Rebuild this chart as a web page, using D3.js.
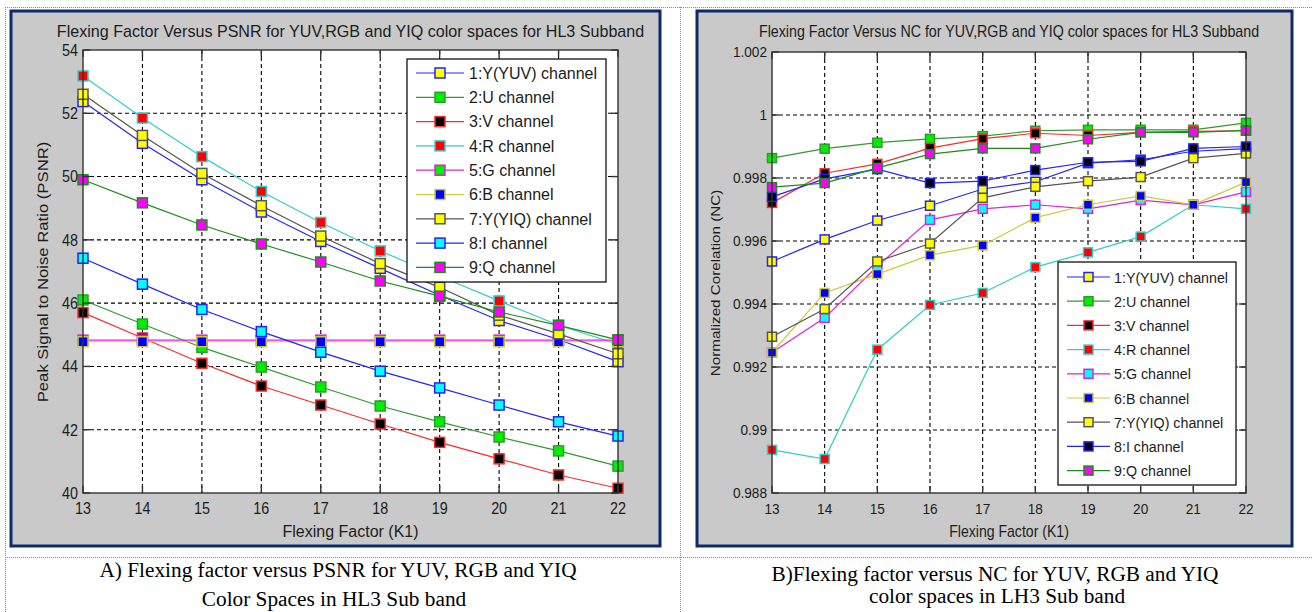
<!DOCTYPE html>
<html>
<head>
<meta charset="utf-8">
<script src="https://cdn.jsdelivr.net/npm/d3@7"></script>
<style>
  body { margin: 0; background: #fff; }
  svg { display: block; }
</style>
</head>
<body>
<script>
// flexing factor K1 values (x axis, both charts)
var flexK = [13, 14, 15, 16, 17, 18, 19, 20, 21, 22];

var channelNames = ["1:Y(YUV) channel", "2:U channel", "3:V channel", "4:R channel", "5:G channel",
	"6:B channel", "7:Y(YIQ) channel", "8:I channel", "9:Q channel"];

// chart A - PSNR
var psnrYyuv = [52.37, 51.05, 49.9, 48.88, 47.95, 47.1, 46.25, 45.45, 44.85, 44.15];
var psnrU    = [46.1, 45.34, 44.6, 43.98, 43.35, 42.75, 42.25, 41.77, 41.33, 40.85];
var psnrV    = [45.7, 44.9, 44.1, 43.38, 42.78, 42.18, 41.6, 41.08, 40.57, 40.15];
var psnrR    = [53.18, 51.85, 50.63, 49.53, 48.55, 47.65, 46.85, 46.07, 45.3, 44.7];
var psnrG    = [44.83, 44.83, 44.83, 44.83, 44.83, 44.83, 44.83, 44.83, 44.83, 44.83];
var psnrB    = [44.78, 44.78, 44.78, 44.78, 44.78, 44.78, 44.78, 44.78, 44.78, 44.78];
var psnrYyiq = [52.6, 51.3, 50.1, 49.08, 48.12, 47.25, 46.5, 45.62, 45.03, 44.4];
var psnrI    = [47.42, 46.6, 45.8, 45.1, 44.45, 43.85, 43.32, 42.78, 42.25, 41.8];
var psnrQ    = [49.9, 49.17, 48.47, 47.87, 47.3, 46.7, 46.22, 45.72, 45.3, 44.84];
var psnrTicks = [40, 42, 44, 46, 48, 50, 52, 54];

// chart B - NC
var ncYyuv = [0.99535, 0.99605, 0.99665, 0.99712, 0.99765, 0.99788, 0.99847, 0.99858, 0.99885, 0.99893];
var ncU    = [0.99863, 0.99893, 0.99912, 0.99924, 0.99933, 0.9995, 0.99953, 0.99953, 0.99953, 0.99975];
var ncV    = [0.99721, 0.99815, 0.99845, 0.99895, 0.99925, 0.99942, 0.99935, 0.99945, 0.99948, 0.9995];
var ncR    = [0.98937, 0.98908, 0.99255, 0.99397, 0.99435, 0.99517, 0.99564, 0.99614, 0.99715, 0.99702];
var ncG    = [0.99246, 0.99356, 0.9952, 0.99667, 0.99702, 0.99715, 0.99702, 0.9973, 0.99715, 0.99756];
var ncB    = [0.99246, 0.99435, 0.99495, 0.99555, 0.99586, 0.99674, 0.99715, 0.99743, 0.99715, 0.99787];
var ncYyiq = [0.99296, 0.99384, 0.99535, 0.99592, 0.99737, 0.99772, 0.9979, 0.99803, 0.99863, 0.99878];
var ncI    = [0.9974, 0.99797, 0.99828, 0.99784, 0.9979, 0.99825, 0.9985, 0.99853, 0.99894, 0.999];
var ncQ    = [0.99771, 0.99784, 0.99832, 0.99876, 0.99894, 0.99894, 0.99923, 0.99945, 0.99945, 0.99951];
var ncTicks = [0.988, 0.99, 0.992, 0.994, 0.996, 0.998, 1, 1.002];

// colours (line / marker edge, marker fill)
var lineColors = ["#2323ff", "#2f9a2f", "#ff2a2a", "#33cccc", "#dd22dd", "#caca3a", "#555555", "#2323ff", "#1a8c1a"];
var psnrFills = ["#ffff00", "#00ee00", "#000000", "#ff0000", "#00ee00", "#0000ff", "#ffff00", "#00ffff", "#ff00ff"];
var ncFills   = ["#ffff00", "#00ee00", "#000000", "#ff0000", "#00ffff", "#0000ff", "#ffff00", "#000000", "#ff00ff"];

var svg = d3.select("body").append("svg")
	.attr("width", 1312)
	.attr("height", 612)
	.style("font-family", "'Liberation Sans', Arial, sans-serif");

// dotted table borders of the page
var dots = svg.append("g").attr("stroke", "#8a8a8a").attr("stroke-width", 1).attr("stroke-dasharray", "1,1");
dots.append("line").attr("x1", 5).attr("y1", 7.5).attr("x2", 1312).attr("y2", 7.5);
dots.append("line").attr("x1", 5.5).attr("y1", 7).attr("x2", 5.5).attr("y2", 612);
dots.append("line").attr("x1", 680.5).attr("y1", 7).attr("x2", 680.5).attr("y2", 612);
dots.append("line").attr("x1", 5).attr("y1", 557.5).attr("x2", 1312).attr("y2", 557.5);

function txt(g, x, y, s, size, anchor, sx, rot, sy) {
	return g.append("text")
		.attr("transform", "translate(" + x + "," + y + ")" + (rot ? " rotate(" + rot + ")" : "") +
			" scale(" + (sx || 1) + "," + (sy || 1) + ")")
		.attr("text-anchor", anchor)
		.attr("font-size", size)
		.attr("fill", "#1c1c1c")
		.text(s);
}

function drawChart(o) {
	var g = svg.append("g");

	g.append("rect")
		.attr("x", o.panel[0]).attr("y", o.panel[1])
		.attr("width", o.panel[2] - o.panel[0]).attr("height", o.panel[3] - o.panel[1])
		.attr("fill", "#c9c9c9").attr("stroke", "#0d2b6b").attr("stroke-width", 3);

	var x = d3.scaleLinear().domain([13, 22]).range([o.box[0], o.box[2]]);
	var y = d3.scaleLinear().domain(o.yDomain).range([o.box[3], o.box[1]]);

	g.append("rect")
		.attr("x", o.box[0]).attr("y", o.box[1])
		.attr("width", o.box[2] - o.box[0]).attr("height", o.box[3] - o.box[1])
		.attr("fill", "#fff");

	// dashed grid
	var grid = g.append("g").attr("stroke", "#000").attr("stroke-width", 1.1).attr("stroke-dasharray", "4,3");
	flexK.slice(1, -1).forEach(function (k) {
		grid.append("line").attr("x1", x(k)).attr("x2", x(k)).attr("y1", o.box[1]).attr("y2", o.box[3]);
	});
	o.yTicks.slice(1, -1).forEach(function (v) {
		grid.append("line").attr("y1", y(v)).attr("y2", y(v)).attr("x1", o.box[0]).attr("x2", o.box[2]);
	});

	// series
	var line = d3.line().x(function (d, i) { return x(flexK[i]); }).y(function (d) { return y(d); });
	o.series.forEach(function (s, si) {
		var sg = g.append("g");
		sg.append("path").attr("d", line(s)).attr("fill", "none")
			.attr("stroke", lineColors[si]).attr("stroke-width", 1.2);
		sg.selectAll("rect").data(s).enter().append("rect")
			.attr("x", function (d, i) { return x(flexK[i]) - o.ms / 2; })
			.attr("y", function (d) { return y(d) - o.ms / 2; })
			.attr("width", o.ms).attr("height", o.ms)
			.attr("fill", o.fills[si]).attr("stroke", lineColors[si]).attr("stroke-width", 1.5);
	});

	// axes box with inward ticks on four sides
	var ax = g.append("g").attr("stroke", "#333").attr("stroke-width", 1.4);
	ax.append("rect").attr("x", o.box[0]).attr("y", o.box[1])
		.attr("width", o.box[2] - o.box[0]).attr("height", o.box[3] - o.box[1]).attr("fill", "none");
	flexK.forEach(function (k) {
		ax.append("line").attr("x1", x(k)).attr("x2", x(k)).attr("y1", o.box[3]).attr("y2", o.box[3] - 7);
		ax.append("line").attr("x1", x(k)).attr("x2", x(k)).attr("y1", o.box[1]).attr("y2", o.box[1] + 7);
		txt(g, x(k), o.box[3] + 21, k, o.fsTick, "middle", o.sxTick);
	});
	o.yTicks.forEach(function (v) {
		ax.append("line").attr("y1", y(v)).attr("y2", y(v)).attr("x1", o.box[0]).attr("x2", o.box[0] + 7);
		ax.append("line").attr("y1", y(v)).attr("y2", y(v)).attr("x1", o.box[2]).attr("x2", o.box[2] - 7);
		txt(g, o.box[0] - 5, y(v) + o.fsTick * 0.36, o.yFormat(v), o.fsTick, "end", o.sxTick);
	});

	// texts
	txt(g, (o.box[0] + o.box[2]) / 2, o.titleY, o.title, o.fsTitle, "middle", o.sxTitle);
	txt(g, (o.box[0] + o.box[2]) / 2, o.xLabelY, "Flexing Factor (K1)", o.fsLabel, "middle", o.sxLabel);
	txt(g, o.yLabelX, o.yLabelMid, o.yLabel, o.fsYLabel, "middle", 1, -90, o.sy);

	// legend
	var lg = g.append("g");
	lg.append("rect").attr("x", o.legend[0]).attr("y", o.legend[1])
		.attr("width", o.legend[2]).attr("height", o.legend[3])
		.attr("fill", "#fff").attr("stroke", "#111").attr("stroke-width", 1.3);
	channelNames.forEach(function (name, i) {
		var ry = o.legend[1] + o.legRow0 + i * o.legStep;
		var lx = o.legend[0] + o.legLine[0];
		lg.append("line").attr("x1", lx).attr("x2", o.legend[0] + o.legLine[1]).attr("y1", ry).attr("y2", ry)
			.attr("stroke", lineColors[i]).attr("stroke-width", 1.2);
		var mx = (lx + o.legend[0] + o.legLine[1]) / 2;
		lg.append("rect").attr("x", mx - o.ms / 2).attr("y", ry - o.ms / 2).attr("width", o.ms).attr("height", o.ms)
			.attr("fill", o.fills[i]).attr("stroke", lineColors[i]).attr("stroke-width", 1.5);
		txt(lg, o.legend[0] + o.legText, ry + o.fsLegend * 0.36, name, o.fsLegend, "start", o.sxLegend);
	});

	// caption below the figure
	o.caption.forEach(function (c) {
		g.append("text").attr("x", c[0]).attr("y", c[1]).attr("text-anchor", "middle")
			.attr("font-family", "'Liberation Serif', 'Times New Roman', serif")
			.attr("font-size", 21.3).attr("fill", "#000").text(c[2]);
	});
}

drawChart({
	panel: [11, 11, 660, 546],
	box: [83, 50, 618, 493],
	yDomain: [40, 54],
	yTicks: psnrTicks,
	yFormat: function (v) { return v; },
	series: [psnrYyuv, psnrU, psnrV, psnrR, psnrG, psnrB, psnrYyiq, psnrI, psnrQ],
	fills: psnrFills,
	ms: 10,
	title: "Flexing Factor Versus PSNR for YUV,RGB and YIQ color spaces for HL3 Subband",
	titleY: 37, fsTitle: 16.1, sxTitle: 1,
	xLabelY: 537, fsLabel: 16, sxLabel: 1,
	yLabel: "Peak Signal to Noise Ratio (PSNR)",
	yLabelX: 48, yLabelMid: 272, fsYLabel: 16.7, sy: 0.92,
	fsTick: 16.3, sxTick: 0.88,
	legend: [407, 59, 199, 223],
	legRow0: 14, legStep: 24.3, legLine: [9, 57], legText: 62,
	fsLegend: 16, sxLegend: 1,
	caption: [[338, 577, "A) Flexing factor versus PSNR for YUV, RGB and YIQ"],
		[334, 606, "Color Spaces in HL3 Sub band"]]
});

drawChart({
	panel: [697, 11, 1292, 546],
	box: [772, 52, 1246, 493],
	yDomain: [0.988, 1.002],
	yTicks: ncTicks,
	yFormat: function (v) { return String(+v.toFixed(3)); },
	series: [ncYyuv, ncU, ncV, ncR, ncG, ncB, ncYyiq, ncI, ncQ],
	fills: ncFills,
	ms: 9,
	title: "Flexing Factor Versus NC for YUV,RGB and YIQ color spaces for HL3 Subband",
	titleY: 37, fsTitle: 16, sxTitle: 0.89,
	xLabelY: 537, fsLabel: 16, sxLabel: 0.88,
	yLabel: "Normalized Corelation (NC)",
	yLabelX: 720, yLabelMid: 283, fsYLabel: 15.2, sy: 0.9,
	fsTick: 14.5, sxTick: 0.94,
	legend: [1058, 262, 178, 223],
	legRow0: 15, legStep: 24.2, legLine: [9, 52], legText: 56,
	fsLegend: 15.5, sxLegend: 0.92,
	caption: [[995, 581, "B)Flexing factor versus NC for YUV, RGB and YIQ"],
		[997, 603, "color spaces  in LH3 Sub band"]]
});
</script>
</body>
</html>
